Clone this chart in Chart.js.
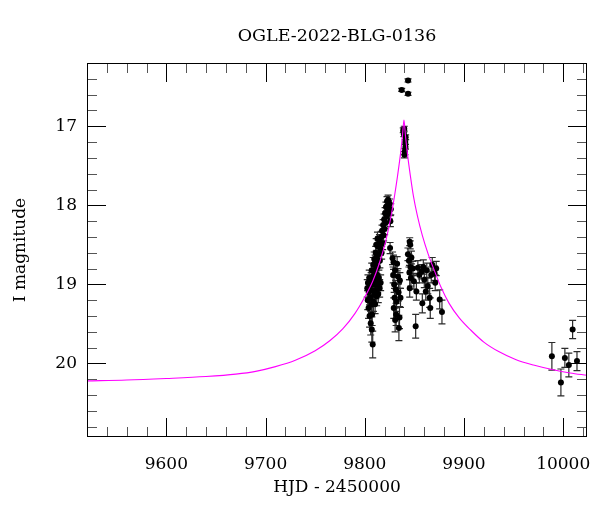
<!DOCTYPE html>
<html>
<head>
<meta charset="utf-8">
<script src="https://cdn.jsdelivr.net/npm/chart.js@4.4.0/dist/chart.umd.min.js"></script>
<style>
  html, body { margin: 0; padding: 0; background: #fff; }
  #wrap { width: 600px; height: 512px; }
</style>
</head>
<body>
<div id="wrap"><canvas id="lightCurve"></canvas></div>
<script>
// OGLE photometry: HJD - 2450000, I magnitude, error
const hjd = [
  9802.5, 9803.0, 9803.2, 9803.8, 9804.0, 9804.5, 9804.8, 9805.2, 9805.6, 9806.0,
  9806.4, 9806.8, 9807.1, 9807.4, 9807.8, 9808.0, 9808.3, 9808.7, 9809.1, 9809.5,
  9810.0, 9810.4, 9810.8, 9811.2, 9811.6, 9812.0, 9812.5, 9813.0, 9813.6, 9814.2,
  9815.0, 9816.0,
  9807.0, 9808.5, 9809.5, 9810.5, 9811.0, 9811.5, 9812.2, 9812.8, 9813.0, 9813.5,
  9814.0, 9814.8, 9815.2, 9815.8, 9816.5, 9817.0, 9817.4, 9818.0, 9818.5, 9819.0,
  9819.5, 9820.0, 9820.5, 9821.0, 9821.4, 9822.0, 9822.4, 9823.0, 9823.5, 9824.0,
  9824.6, 9825.2, 9825.8, 9826.2, 9825.5,
  9828.0, 9829.0, 9828.6, 9830.5, 9829.6, 9831.2, 9830.0, 9832.0, 9829.2, 9832.6,
  9831.6, 9830.6, 9835.0, 9834.4, 9836.0, 9835.4, 9833.5, 9834.0,
  9837.2, 9843.6, 9843.6, 9838.8, 9839.4, 9840.8, 9841.0, 9840.4, 9840.0, 9839.8,
  9841.2,
  9845.3, 9845.8, 9843.5, 9844.5, 9846.0, 9845.0, 9847.0, 9846.5, 9845.3, 9848.5,
  9849.5, 9852.0, 9851.3, 9853.5, 9855.0, 9857.0, 9858.0, 9859.0, 9860.0, 9861.5,
  9862.5, 9863.5, 9865.4, 9866.0, 9867.0, 9868.0, 9870.4, 9871.0, 9872.0, 9875.5,
  9877.8,
  9988.6, 9997.7, 10001.7, 10005.7, 10009.5, 10013.9
];
const mag = [
  19.05, 19.20, 18.98, 19.30, 19.10, 18.92, 19.40, 19.02, 19.17, 19.49,
  18.95, 19.25, 19.57, 19.38, 19.08, 19.76, 18.90, 19.22, 19.00, 19.13,
  18.85, 19.25, 18.95, 19.07, 18.80, 19.15, 18.88, 19.00, 19.12, 18.92,
  19.05, 18.98,
  18.82, 18.75, 18.68, 18.72, 18.60, 18.50, 18.65, 18.42, 18.78, 18.52,
  18.62, 18.45, 18.70, 18.55, 18.40, 18.60, 18.32, 18.48, 18.25, 18.38,
  18.18, 18.30, 18.10, 18.22, 18.02, 18.14, 17.95, 18.06, 17.93, 18.00,
  18.10, 17.98, 18.20, 18.05, 18.54,
  18.67, 18.72, 18.88, 18.82, 19.00, 19.06, 19.17, 19.22, 19.30, 18.74,
  19.38, 19.45, 19.42, 19.55, 19.17, 18.95, 18.90, 19.10,
  16.54, 16.42, 16.59, 17.05, 17.10, 17.20, 17.26, 17.32, 17.36, 17.03,
  17.14,
  18.46, 18.50, 18.62, 18.70, 18.78, 18.85, 18.66, 18.92, 19.05, 18.80,
  18.96, 19.09, 19.53, 18.79, 18.88, 18.84, 19.24, 18.78, 18.94, 19.09,
  18.82, 19.02, 19.17, 19.30, 18.88, 18.75, 18.86, 18.98, 18.80, 19.19,
  19.35,
  19.91, 20.24, 19.93, 20.02, 19.57, 19.97
];
const magErr = [
  0.11, 0.12, 0.10, 0.13, 0.11, 0.10, 0.14, 0.11, 0.12, 0.15,
  0.10, 0.12, 0.16, 0.14, 0.11, 0.17, 0.10, 0.12, 0.10, 0.11,
  0.09, 0.12, 0.10, 0.11, 0.09, 0.12, 0.10, 0.10, 0.11, 0.10,
  0.11, 0.10,
  0.09, 0.09, 0.09, 0.09, 0.08, 0.08, 0.08, 0.08, 0.09, 0.08,
  0.08, 0.08, 0.09, 0.08, 0.07, 0.08, 0.07, 0.08, 0.07, 0.07,
  0.07, 0.07, 0.07, 0.07, 0.06, 0.07, 0.06, 0.07, 0.06, 0.06,
  0.07, 0.06, 0.07, 0.07, 0.07,
  0.08, 0.09, 0.10, 0.09, 0.10, 0.11, 0.12, 0.12, 0.13, 0.09,
  0.14, 0.15, 0.14, 0.16, 0.12, 0.10, 0.10, 0.11,
  0.02, 0.02, 0.02, 0.03, 0.03, 0.03, 0.03, 0.04, 0.04, 0.03,
  0.03,
  0.05, 0.05, 0.08, 0.08, 0.09, 0.09, 0.08, 0.10, 0.11, 0.09,
  0.10, 0.11, 0.15, 0.09, 0.10, 0.09, 0.12, 0.09, 0.10, 0.11,
  0.09, 0.10, 0.12, 0.13, 0.10, 0.09, 0.09, 0.10, 0.09, 0.12,
  0.15,
  0.175, 0.17, 0.12, 0.15, 0.115, 0.12
];

// fitted model
const modelHjd = [
  9520, 9560, 9600, 9640, 9670, 9690, 9710, 9730, 9750, 9765,
  9778, 9790, 9800, 9808, 9815, 9821, 9826, 9830, 9833, 9836,
  9838, 9839.5, 9841, 9843, 9846, 9849, 9853, 9858, 9864, 9870,
  9877, 9885, 9895, 9907, 9920, 9935, 9952, 9970, 9990, 10007,
  10024
];
const modelMag = [
  20.22, 20.21, 20.19, 20.165, 20.135, 20.10, 20.04, 19.96, 19.84, 19.71,
  19.56, 19.37, 19.16, 18.96, 18.72, 18.46, 18.17, 17.88, 17.63, 17.35,
  17.12, 16.92, 17.12, 17.35, 17.63, 17.88, 18.13, 18.38, 18.62, 18.82,
  19.04, 19.24, 19.42, 19.58, 19.73, 19.85, 19.95, 20.02, 20.08, 20.12,
  20.15
];

const xTickValues = [9600, 9700, 9800, 9900, 10000];
const yTickValues = [17, 18, 19, 20];

const serif = 'DejaVu Serif';

const errorBars = {
  id: 'errorBars',
  beforeDatasetsDraw(chart) {
    const { ctx, chartArea, scales: { x, y } } = chart;
    ctx.save();
    ctx.beginPath();
    ctx.rect(chartArea.left, chartArea.top, chartArea.width, chartArea.height);
    ctx.clip();
    ctx.strokeStyle = '#2b2b2b';
    ctx.lineWidth = 1.2;
    for (let i = 0; i < hjd.length; i++) {
      const px = x.getPixelForValue(hjd[i]);
      const top = y.getPixelForValue(mag[i] - magErr[i]);
      const bot = y.getPixelForValue(mag[i] + magErr[i]);
      ctx.beginPath();
      ctx.moveTo(px, top); ctx.lineTo(px, bot);
      ctx.moveTo(px - 3.5, top); ctx.lineTo(px + 3.5, top);
      ctx.moveTo(px - 3.5, bot); ctx.lineTo(px + 3.5, bot);
      ctx.stroke();
    }
    ctx.restore();
  }
};

// box and inward tick marks on all four sides
const frameTicks = {
  id: 'frameTicks',
  afterDraw(chart) {
    const { ctx, chartArea: a, scales: { x, y } } = chart;
    const seg = (x1, y1, x2, y2) => { ctx.beginPath(); ctx.moveTo(x1, y1); ctx.lineTo(x2, y2); ctx.stroke(); };
    ctx.save();
    ctx.lineWidth = 1;

    ctx.strokeStyle = '#555';
    for (let v = 9520; v <= 10020; v += 20) {
      if (v % 100 === 0) continue;
      const px = Math.round(x.getPixelForValue(v)) + 0.5;
      seg(px, a.bottom, px, a.bottom - 10);
      seg(px, a.top, px, a.top + 10);
    }
    for (let k = 82; k <= 104; k++) {
      if (k % 5 === 0) continue;
      const py = Math.round(y.getPixelForValue(k / 5)) + 0.5;
      seg(a.left, py, a.left + 10, py);
      seg(a.right, py, a.right - 10, py);
    }

    ctx.strokeStyle = '#000';
    xTickValues.forEach(v => {
      const px = Math.round(x.getPixelForValue(v)) + 0.5;
      seg(px, a.bottom, px, a.bottom - 19);
      seg(px, a.top, px, a.top + 19);
    });
    yTickValues.forEach(v => {
      const py = Math.round(y.getPixelForValue(v)) + 0.5;
      seg(a.left, py, a.left + 19, py);
      seg(a.right, py, a.right - 19, py);
    });

    ctx.strokeRect(Math.round(a.left) + 0.5, Math.round(a.top) + 0.5,
                   Math.round(a.width) - 1, Math.round(a.height) - 1);
    ctx.restore();
  }
};

new Chart(document.getElementById('lightCurve'), {
  type: 'scatter',
  data: {
    datasets: [
      {
        type: 'line',
        label: 'model',
        data: modelHjd.map((t, i) => ({ x: t, y: modelMag[i] })),
        borderColor: '#ff00ff',
        borderWidth: 1.1,
        pointRadius: 0,
        fill: false,
        showLine: true,
        cubicInterpolationMode: 'monotone',
        order: 0
      },
      {
        label: 'OGLE I',
        data: hjd.map((t, i) => ({ x: t, y: mag[i] })),
        backgroundColor: '#000',
        borderWidth: 0,
        pointRadius: 3,
        order: 1
      }
    ]
  },
  options: {
    responsive: true,
    maintainAspectRatio: false,
    animation: false,
    layout: { padding: { left: 0, right: 13, top: 0, bottom: 0 } },
    plugins: {
      legend: { display: false },
      tooltip: { enabled: false },
      title: {
        display: true,
        text: 'OGLE-2022-BLG-0136',
        fullSize: false,
        color: '#000',
        font: { family: serif, size: 17.5, weight: 'normal', lineHeight: 1.2 },
        padding: { top: 26, bottom: 16 }
      }
    },
    scales: {
      x: {
        type: 'linear',
        min: 9520,
        max: 10024,
        grid: { display: false, drawTicks: false },
        border: { display: false },
        afterBuildTicks: s => { s.ticks = xTickValues.map(v => ({ value: v })); },
        afterFit: s => { s.height = 75; s.paddingLeft = 0; s.paddingRight = 0; },
        ticks: {
          color: '#000',
          font: { family: serif, size: 17 },
          padding: 17,
          maxRotation: 0,
          autoSkip: false,
          callback: v => String(v)
        },
        title: {
          display: true,
          text: 'HJD - 2450000',
          color: '#000',
          font: { family: serif, size: 17 },
          padding: { top: 0, bottom: 14 }
        }
      },
      y: {
        type: 'linear',
        reverse: true,
        min: 16.2,
        max: 20.93,
        grid: { display: false, drawTicks: false },
        border: { display: false },
        afterBuildTicks: s => { s.ticks = yTickValues.map(v => ({ value: v })); },
        afterFit: s => { s.width = 87; s.paddingTop = 0; s.paddingBottom = 0; },
        ticks: {
          color: '#000',
          font: { family: serif, size: 17 },
          padding: 10,
          autoSkip: false,
          callback: v => String(v)
        },
        title: {
          display: true,
          text: 'I magnitude',
          color: '#000',
          font: { family: serif, size: 17 },
          padding: { top: 10, bottom: 0 }
        }
      }
    }
  },
  plugins: [errorBars, frameTicks]
});
</script>
</body>
</html>
